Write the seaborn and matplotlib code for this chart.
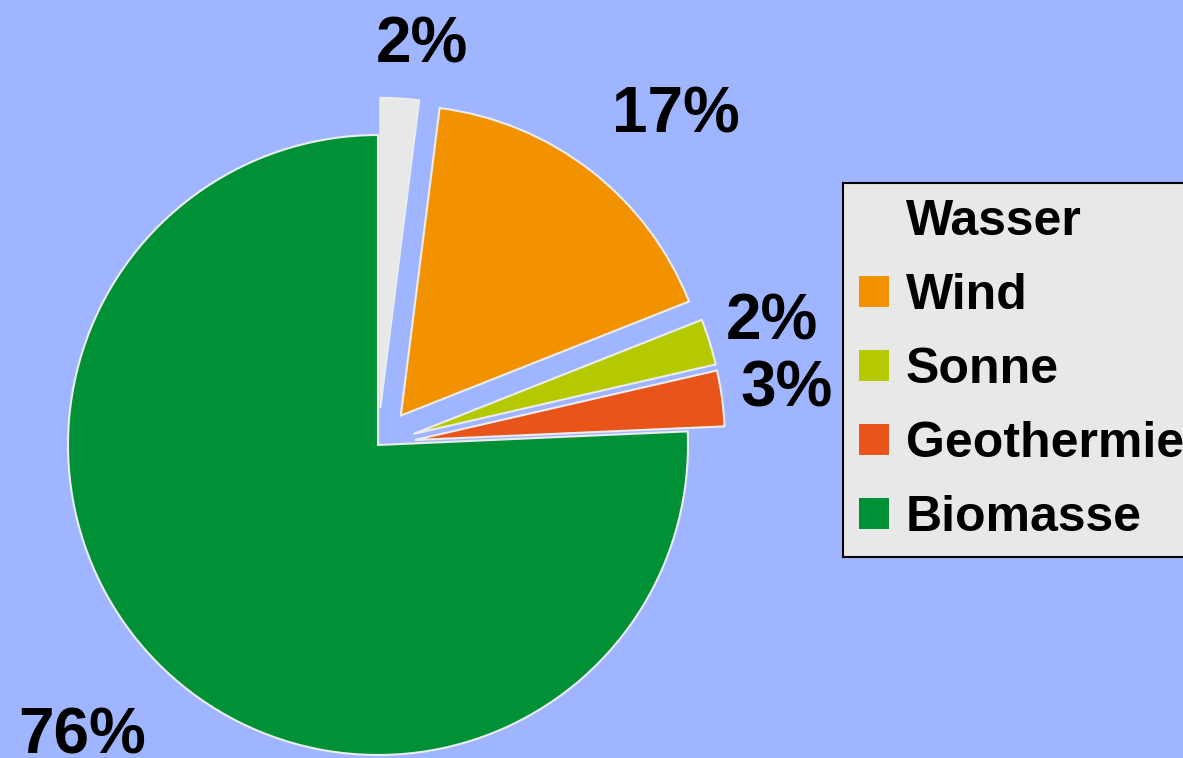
import matplotlib
matplotlib.use("Agg")
import matplotlib.pyplot as plt
import seaborn as sns

# Anteile erneuerbarer Energien (%)
quellen = ["Wasser", "Wind", "Sonne", "Geothermie", "Biomasse"]
anteile = [2.0, 17.0, 2.4, 2.9, 75.7]
farben = ["#e8e8e8", "#f39200", "#b5c900", "#e8541a", "#009036"]
explode = [0.12, 0.12, 0.12, 0.12, 0.0]

bg = "#a0b5ff"

sns.set_theme(style="white")
plt.rcParams["font.family"] = ["Liberation Sans", "DejaVu Sans"]
plt.rcParams["font.weight"] = "bold"

W, H, R = 1183, 758, 310.0
cx, cy = 378, 758 - 445

fig = plt.figure(figsize=(W / 100, H / 100), dpi=100, facecolor=bg)
ax = fig.add_axes([0, 0, 1, 1])
ax.set_facecolor(bg)

wedges, texts, autotexts = ax.pie(
    anteile,
    colors=farben,
    explode=explode,
    startangle=90,
    counterclock=False,
    autopct="%.0f%%",
    pctdistance=1.21,
    wedgeprops=dict(edgecolor="#ececec", linewidth=1.5),
    textprops=dict(fontsize=46, fontweight="bold", color="black"),
)

# Beschriftungen leicht verschieben (x-, y-Faktor)
nudge = [(1.7, 0.97), (1.18, 1.01), (1.0, 1.0), (1.0, 1.0), (1.14, 1.075)]
for t, (fx, fy) in zip(autotexts, nudge):
    x, y = t.get_position()
    t.set_position((x * fx, y * fy))

ax.set_xlim(-cx / R, (W - cx) / R)
ax.set_ylim(-cy / R, (H - cy) / R)
ax.set_aspect("auto")
ax.axis("off")

leg = fig.legend(
    wedges, quellen,
    loc="upper left",
    bbox_to_anchor=(843 / W, 1 - 183 / H),
    borderaxespad=0,
    prop=dict(size=36, weight="bold"),
    labelcolor="black",
    handlelength=0.6,
    handleheight=0.6,
    handletextpad=0.33,
    labelspacing=0.56,
    borderpad=0.32,
    frameon=True,
    fancybox=False,
)
leg.get_frame().set_facecolor("#e8e8e8")
leg.get_frame().set_edgecolor("black")
leg.get_frame().set_linewidth(1.5)
leg.get_frame().set_alpha(1)
for h in leg.legend_handles:
    h.set_edgecolor("none")

fig.savefig("out.png", dpi=100, facecolor=bg)
